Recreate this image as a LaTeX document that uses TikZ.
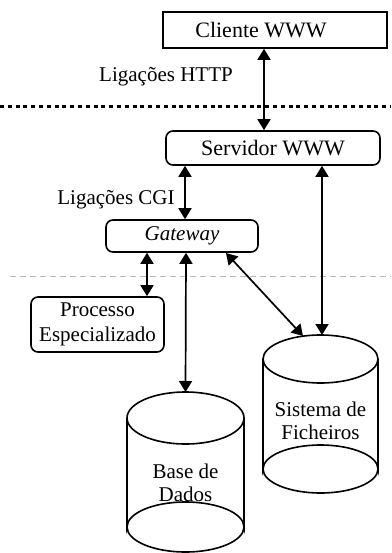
\documentclass[tikz,border=0pt]{standalone}
\usepackage{fontspec}
\setmainfont{Liberation Serif}
\usetikzlibrary{arrows.meta}
\begin{document}
\begin{tikzpicture}[x=1pt,y=-1pt,
  every node/.style={font=\fontsize{21}{24}\selectfont, inner sep=0pt},
  sqbox/.style={draw, line width=1.6pt},
  rbox/.style={draw, line width=1.6pt, rounded corners=7pt},
  conn/.style={line width=1.7pt, {Triangle[length=11pt,width=13pt]}-{Triangle[length=11pt,width=13pt]}},
  cyl/.style={line width=1.6pt},
  boxtxt/.style={font=\fontsize{22}{25}\selectfont}]
\useasboundingbox (0,0) rectangle (391,553);
% boxes
\node (cli) at (275,30) [minimum width=224pt, minimum height=36pt, sqbox] {};
\node (clitxt) at (261,30) [boxtxt] {Cliente WWW};
\node (srv) at (273,148) [minimum width=214pt, minimum height=34pt, rbox, boxtxt] {Servidor WWW};
\node (gw) at (182,236) [minimum width=152pt, minimum height=32pt, rbox] {\itshape Gateway};
\node (proc) at (97.5,324.5) [minimum width=133pt, minimum height=55pt, rbox, align=center] {Processo\\[1pt]Especializado};
% separators
\draw[line width=3pt, dash pattern=on 4pt off 3.8pt] (0,107) -- (391,107);
\draw[gray!55, line width=0.6pt, dash pattern=on 6pt off 4pt] (10,276) -- (391,276);
% labels
\node (lhttp) at (166,77) {Ligações HTTP};
\node (lcgi) at (116,200) {Ligações CGI};
% cylinder: Base de Dados
\draw[cyl] (185.5,418) ellipse [x radius=58.5, y radius=26];
\draw[cyl] (127,418) -- (127,527) arc[start angle=180, end angle=360, x radius=58.5, y radius=25]
  -- (244,418);
\draw[cyl] (127,527) arc[start angle=180, end angle=0, x radius=58.5, y radius=25];
\node (bdtxt) at (185.5,483) [align=center] {Base de\\[-1pt]Dados};
\coordinate (bdtop) at (185.5,392);
% cylinder: Sistema de Ficheiros
\draw[cyl] (320.5,359) ellipse [x radius=57.5, y radius=24];
\draw[cyl] (263,359) -- (263,469) arc[start angle=180, end angle=360, x radius=57.5, y radius=24]
  -- (378,359);
\draw[cyl] (263,469) arc[start angle=180, end angle=0, x radius=57.5, y radius=24];
\node (sftxt) at (320.5,421) [align=center] {Sistema de\\[-1pt]Ficheiros};
\coordinate (sftop) at (322,335);
\coordinate (sfleft) at (303,336);
% connectors
\draw[conn] (cli.south -| 264,0) -- (srv.north -| 264,0);
\draw[conn] (srv.south -| 185,0) -- (gw.north -| 185,0);
\draw[conn] (srv.south -| 322,0) -- (sftop);
\draw[conn] (gw.south -| 147,0) -- (proc.north -| 147,0);
\draw[conn] (gw.south -| 186,0) -- (bdtop);
\draw[conn] (226,253) -- (sfleft);
\end{tikzpicture}
\end{document}
